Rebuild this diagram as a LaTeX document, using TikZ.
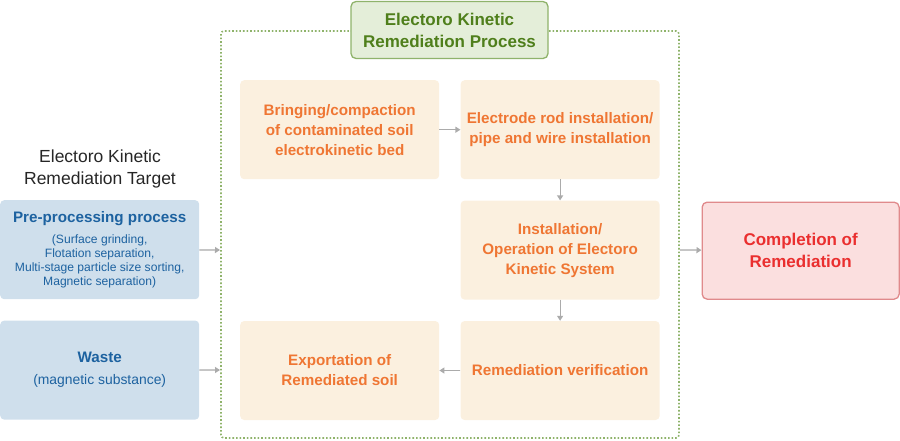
\documentclass[tikz,border=0pt]{standalone}
\usepackage{fontspec}
\setmainfont{Liberation Sans}
\usepackage{tikz}
\usetikzlibrary{arrows.meta,positioning}

\definecolor{stepfill}{HTML}{FBF0DF}
\definecolor{steptext}{HTML}{EF7633}
\definecolor{targetfill}{HTML}{CFDFEC}
\definecolor{targettext}{HTML}{1D62A0}
\definecolor{titlefill}{HTML}{E4EED9}
\definecolor{titleline}{HTML}{8FB36B}
\definecolor{titletext}{HTML}{4F7F1B}
\definecolor{donefill}{HTML}{FBDFDF}
\definecolor{doneline}{HTML}{E08A8C}
\definecolor{donetext}{HTML}{EA2F2F}
\definecolor{arrowgray}{HTML}{ABABAB}

\begin{document}
\begin{tikzpicture}[x=1pt,y=-1pt,>={Triangle[width=6pt,length=5pt]},
    node distance=21pt,align=center,
    stepbox/.style={fill=stepfill,rounded corners=4pt,minimum width=199pt,minimum height=99pt,
        text=steptext,font=\fontsize{15.2}{20}\selectfont\bfseries,inner sep=0pt},
    targetbox/.style={fill=targetfill,rounded corners=4pt,minimum width=199pt,minimum height=99pt,
        text=targettext,inner sep=0pt},
    flow/.style={->,draw=arrowgray,fill=arrowgray,line width=1.2pt}]
    \useasboundingbox (0,0) rectangle (900,440);
    % process frame
    \draw[titleline,dotted,line width=1.6pt,rounded corners=3pt] (221,31) rectangle (679,438);
    \node[fill=titlefill,draw=titleline,line width=1.3pt,rounded corners=5pt,minimum width=197pt,minimum height=57pt,
        text=titletext,font=\fontsize{17}{22}\selectfont\bfseries,inner sep=0pt] (title) at (449.5,30)
        {Electoro Kinetic\\Remediation Process};
    % process steps
    \node[stepbox,anchor=north west] (bring) at (240,80) {Bringing/compaction\\of contaminated soil\\electrokinetic bed};
    \node[stepbox] [right=of bring] (rod) {Electrode rod installation/\\pipe and wire installation};
    \node[stepbox] [below=of rod] (system) {Installation/\\Operation of Electoro\\Kinetic System};
    \node[stepbox] [below=of system] (verify) {Remediation verification};
    \node[stepbox] [left=of verify] (export) {Exportation of\\Remediated soil};
    % targets
    \node[font=\fontsize{17.5}{22}\selectfont,text=black!85] (target) at (100,169) {Electoro Kinetic\\Remediation Target};
    \node[targetbox,anchor=north west,font=\fontsize{12.1}{14}\selectfont] (pre) at (0,200)
        {\fontsize{15.2}{20}\selectfont\bfseries Pre-processing process\\[7pt]
        (Surface grinding,\\Flotation separation,\\Multi-stage particle size sorting,\\Magnetic separation)};
    \node[targetbox,font=\fontsize{13.9}{20}\selectfont] [below=of pre] (waste)
        {\fontsize{15.2}{20}\selectfont\bfseries Waste\\[2pt]
        (magnetic substance)};
    % result
    \node[fill=donefill,draw=doneline,line width=1.3pt,rounded corners=5pt,minimum width=197pt,minimum height=97pt,
        text=donetext,font=\fontsize{17}{22}\selectfont\bfseries,inner sep=0pt,anchor=north west] (done) at (701.5,201.5)
        {Completion of\\Remediation};
    \coordinate (inpre) at (220,250);
    \coordinate (inwaste) at (220,370);
    \coordinate (outframe) at (680,250);
    % connectors
    \draw[flow] (bring) -- (rod);
    \draw[flow] (rod) -- (system);
    \draw[flow] (system) -- (verify);
    \draw[flow] (verify) -- (export);
    \draw[flow] (pre) -- (inpre);
    \draw[flow] (waste) -- (inwaste);
    \draw[flow] (outframe) -- (done);
\end{tikzpicture}
\end{document}
